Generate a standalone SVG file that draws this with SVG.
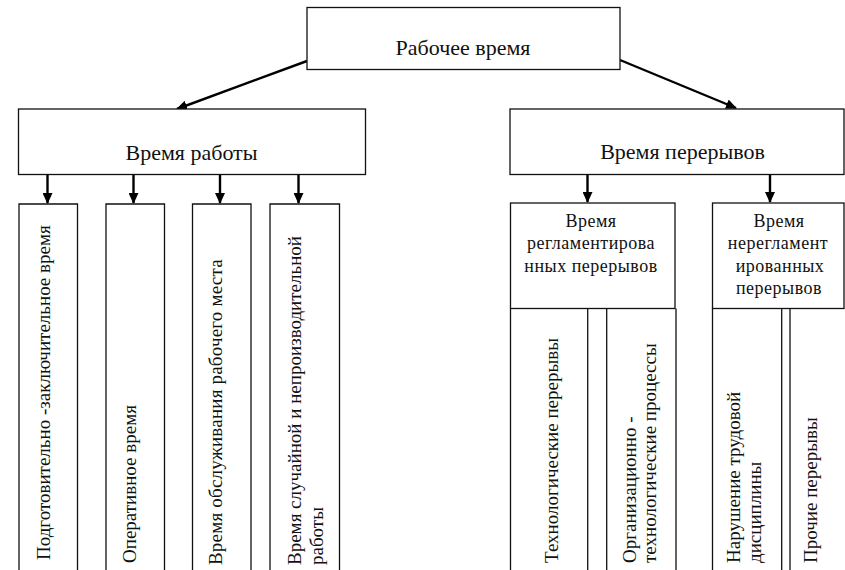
<svg xmlns="http://www.w3.org/2000/svg" width="845" height="570" viewBox="0 0 845 570">
<defs>
<marker id="ah" markerWidth="11" markerHeight="10" refX="10" refY="5" orient="auto" markerUnits="userSpaceOnUse">
<path d="M0,0 L11,5 L0,10 z" fill="#000"/>
</marker>
<style>
.box{fill:#fff;stroke:#111;stroke-width:1.3}
.ln{stroke:#111;stroke-width:1.3;fill:none}
.arr{stroke:#000;stroke-width:2.4;fill:none;marker-end:url(#ah)}
.t{font-family:'Liberation Serif','Times New Roman',serif;fill:#111}
.big{font-size:22px;text-anchor:middle}
.hd{font-size:18px;text-anchor:middle;letter-spacing:0.5px}
.rot{font-size:19px}
</style>
</defs>
<rect width="845" height="570" fill="#fff"/>

<g id="connectors">
<line class="arr" x1="307" y1="61" x2="177" y2="109"/>
<line class="arr" x1="620" y1="60" x2="736" y2="108"/>
<line class="arr" x1="47.5" y1="174" x2="47.5" y2="203"/>
<line class="arr" x1="133.5" y1="174" x2="133.5" y2="203"/>
<line class="arr" x1="220" y1="174" x2="220" y2="203"/>
<line class="arr" x1="298.5" y1="174" x2="298.5" y2="203"/>
<line class="arr" x1="587.5" y1="174" x2="587.5" y2="202"/>
<line class="arr" x1="770" y1="174" x2="770" y2="202"/>
</g>

<g id="n-rabochee">
<rect class="box" x="307" y="7.5" width="313" height="62"/>
<text class="t big" x="463" y="55">Рабочее время</text>
</g>

<g id="n-rabota">
<rect class="box" x="18.5" y="109" width="347" height="65.5"/>
<text class="t big" x="191.5" y="160">Время работы</text>
</g>

<g id="n-pereryvy">
<rect class="box" x="510" y="109" width="334" height="65.5"/>
<text class="t big" x="682.5" y="159">Время перерывов</text>
</g>

<g id="n-pz">
<path class="ln" d="M19,572 V204 H77.5 V572"/>
<text class="t rot" transform="translate(50,560) rotate(-90)">Подготовительно -заключительное время</text>
</g>

<g id="n-oper">
<path class="ln" d="M106,572 V204 H164.5 V572"/>
<text class="t rot" transform="translate(136,563) rotate(-90)">Оперативное время</text>
</g>

<g id="n-obsl">
<path class="ln" d="M192.5,572 V204 H251 V572"/>
<text class="t rot" transform="translate(222,565) rotate(-90)" letter-spacing="0.2">Время обслуживания рабочего места</text>
</g>

<g id="n-sluch">
<path class="ln" d="M270,572 V204 H339.5 V572"/>
<text class="t rot" transform="translate(301,565) rotate(-90)">Время случайной и непроизводительной</text>
<text class="t rot" transform="translate(323,565) rotate(-90)">работы</text>
</g>

<g id="n-reglam">
<rect class="box" x="510.5" y="203" width="164.5" height="105.5"/>
<text class="t hd" x="591" y="227">Время</text>
<text class="t hd" x="591" y="249">регламентирова</text>
<text class="t hd" x="591" y="271.5">нных перерывов</text>
</g>

<g id="n-tehn">
<path class="ln" d="M510.5,308.5 V572 M587.7,308.5 V572"/>
<text class="t rot" transform="translate(558,563) rotate(-90)">Технологические перерывы</text>
</g>

<g id="n-org">
<path class="ln" d="M606.7,308.5 V572 M676,308.5 V572"/>
<text class="t rot" transform="translate(636,563) rotate(-90)">Организационно -</text>
<text class="t rot" transform="translate(656,563) rotate(-90)">технологические процессы</text>
</g>

<g id="n-nereglam">
<rect class="box" x="712.5" y="203" width="131.5" height="105.5"/>
<text class="t hd" x="779" y="227">Время</text>
<text class="t hd" x="778" y="249">нерегламент</text>
<text class="t hd" x="780" y="271.5">ированных</text>
<text class="t hd" x="779" y="293.5">перерывов</text>
</g>

<g id="n-narush">
<path class="ln" d="M712.5,308.5 V572 M781.7,308.5 V572"/>
<text class="t rot" transform="translate(740,563) rotate(-90)">Нарушение трудовой</text>
<text class="t rot" transform="translate(761,563) rotate(-90)">дисциплины</text>
</g>

<g id="n-proch">
<path class="ln" d="M790,308.5 V572"/>
<text class="t rot" transform="translate(817,563) rotate(-90)">Прочие перерывы</text>
</g>
</svg>
